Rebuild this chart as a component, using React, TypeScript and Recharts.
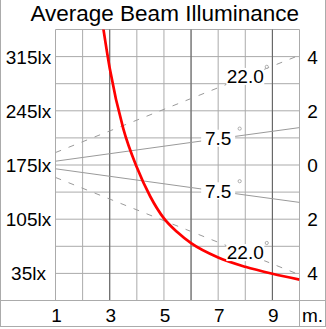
import React from "react";
import { ComposedChart, Line, XAxis, YAxis, CartesianGrid, ReferenceLine } from "recharts";

const TITLE = "Average Beam Illuminance";

// Illuminance curve (distance in m, lux)
const DIST = [2.7, 3, 3.5, 4, 4.5, 5, 5.5, 6, 7, 8, 9, 10];
const LUX = [366, 300, 222, 172, 134, 106, 88, 74, 55.5, 43.5, 34.5, 27];

// Axes
const X_TICKS = [1, 2, 3, 4, 5, 6, 7, 8, 9, 10];
const X_LABELS = [1, 3, 5, 7, 9];
const X_UNIT = "m.";
const DARK_X = [3, 6, 9];
const LUX_TICKS = [0, 35, 70, 105, 140, 175, 210, 245, 280, 315, 350];
const LUX_LABELS = [35, 105, 175, 245, 315];
const SPREAD_TICKS = [-4, -2, 0, 2, 4];

// Beam spread lines (diameter in m)
const WIDE_X = [1, 8, 10];
const WIDE_TOP = [0.46, 3.25, 4.05];
const WIDE_BOTTOM = [-0.46, -3.25, -4.05];
const NARROW_X = [1, 7, 10];
const NARROW_TOP = [0.14, 0.97, 1.38];
const NARROW_BOTTOM = [-0.14, -0.97, -1.38];
const WIDE_LABEL = "22.0";
const NARROW_LABEL = "7.5";

const FONT = "'Liberation Sans', Arial, Helvetica, sans-serif";
const GRID = "#ababab";
const DARK = "#5e5e5e";
const BEAM = "#9a9a9a";

const luxData = DIST.map((x, i) => ({ x, lux: LUX[i] }));
const toSeries = (xs: number[], vs: number[]) => xs.map((x, i) => ({ x, v: vs[i] }));
const wideTop = toSeries(WIDE_X, WIDE_TOP);
const wideBottom = toSeries(WIDE_X, WIDE_BOTTOM);
const narrowTop = toSeries(NARROW_X, NARROW_TOP);
const narrowBottom = toSeries(NARROW_X, NARROW_BOTTOM);

const LeftTick = (props: any) => {
  const { y, payload } = props;
  if (!LUX_LABELS.includes(payload.value)) return <g />;
  return (
    <text x={28.5} y={y + 7} textAnchor="middle" fontSize={19} fontFamily={FONT} fill="#000">
      {payload.value}lx
    </text>
  );
};

const RightTick = (props: any) => {
  const { y, payload } = props;
  return (
    <text x={312.5} y={y + 7} textAnchor="middle" fontSize={19} fontFamily={FONT} fill="#000">
      {Math.abs(payload.value)}
    </text>
  );
};

const BottomTick = (props: any) => {
  const { x, payload } = props;
  const v = payload.value;
  if (v === 10) {
    return (
      <text x={x + 13} y={321.5} textAnchor="middle" fontSize={19} fontFamily={FONT} fill="#000">
        {X_UNIT}
      </text>
    );
  }
  if (!X_LABELS.includes(v)) return <g />;
  return (
    <text x={x + 1} y={321.5} textAnchor="middle" fontSize={19} fontFamily={FONT} fill="#000">
      {v}
    </text>
  );
};

const makeBeamDot = (text: string, half: number) => (props: any) => {
  const { cx, cy, index } = props;
  if (index !== 1) return <g key={`d${index}`} />;
  const base = cy + 6.3;
  return (
    <g key={`d${index}`}>
      <rect x={cx - half} y={cy - 9} width={half * 2} height={17} fill="#fff" />
      <text x={cx} y={base} textAnchor="middle" fontSize={19} fontFamily={FONT} fill="#000">
        {text}
      </text>
      <circle cx={cx + 21.5} cy={base - 16.4} r={1.6} fill="#fff" stroke={BEAM} strokeWidth={0.8} />
    </g>
  );
};

export default function App() {
  return (
    <div style={{ position: "absolute", left: 0, top: 0, width: 326, height: 329, background: "#fff" }}>
      <ComposedChart width={326} height={329} margin={{ top: 29.5, right: 0, bottom: 0, left: 0 }}>
        <CartesianGrid stroke={GRID} yAxisId="lx" />
        <XAxis
          dataKey="x"
          type="number"
          domain={[1, 10]}
          ticks={X_TICKS}
          interval={0}
          allowDataOverflow
          height={28.5}
          axisLine={false}
          tickLine={false}
          tick={BottomTick}
        />
        <YAxis
          yAxisId="lx"
          type="number"
          domain={[0, 350]}
          ticks={LUX_TICKS}
          interval={0}
          allowDataOverflow
          width={55.5}
          axisLine={false}
          tickLine={false}
          tick={LeftTick}
        />
        <YAxis
          yAxisId="m"
          orientation="right"
          type="number"
          domain={[-5, 5]}
          ticks={SPREAD_TICKS}
          interval={0}
          allowDataOverflow
          width={26.5}
          axisLine={false}
          tickLine={false}
          tick={RightTick}
        />
        {DARK_X.map((x) => (
          <ReferenceLine key={x} x={x} yAxisId="lx" stroke={DARK} strokeWidth={1} />
        ))}
        <Line data={wideTop} yAxisId="m" dataKey="v" type="linear" stroke={BEAM} strokeWidth={1} strokeDasharray="6 8" dot={makeBeamDot(WIDE_LABEL, 19)} activeDot={false} isAnimationActive={false} />
        <Line data={wideBottom} yAxisId="m" dataKey="v" type="linear" stroke={BEAM} strokeWidth={1} strokeDasharray="6 8" dot={makeBeamDot(WIDE_LABEL, 19)} activeDot={false} isAnimationActive={false} />
        <Line data={narrowTop} yAxisId="m" dataKey="v" type="linear" stroke={BEAM} strokeWidth={1} dot={makeBeamDot(NARROW_LABEL, 17)} activeDot={false} isAnimationActive={false} />
        <Line data={narrowBottom} yAxisId="m" dataKey="v" type="linear" stroke={BEAM} strokeWidth={1} dot={makeBeamDot(NARROW_LABEL, 17)} activeDot={false} isAnimationActive={false} />
        <Line data={luxData} yAxisId="lx" dataKey="lux" type="monotone" stroke="#ff0000" strokeWidth={2.7} dot={false} activeDot={false} isAnimationActive={false} />
      </ComposedChart>
      <svg width={326} height={329} style={{ position: "absolute", left: 0, top: 0, pointerEvents: "none" }}>
        <text x={164.7} y={21} textAnchor="middle" fontSize={22.5} fontFamily={FONT} fill="#000">
          {TITLE}
        </text>
        <line x1={0.5} y1={0} x2={0.5} y2={326.5} stroke={GRID} />
        <line x1={325.5} y1={0} x2={325.5} y2={326.5} stroke={GRID} />
        <line x1={0} y1={326.5} x2={326} y2={326.5} stroke={GRID} />
        <line x1={0} y1={300.5} x2={326} y2={300.5} stroke={GRID} />
        <line x1={299.5} y1={300.5} x2={299.5} y2={326.5} stroke={GRID} />
      </svg>
    </div>
  );
}
